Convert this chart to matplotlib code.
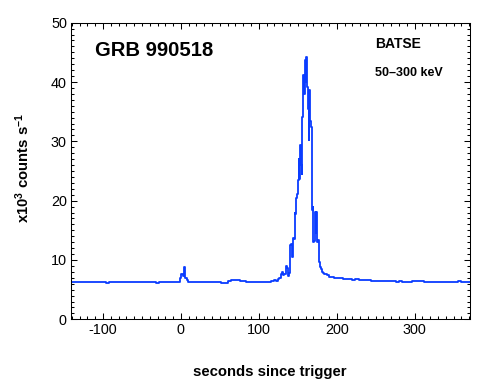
import numpy as np
import matplotlib
matplotlib.use('Agg')
import matplotlib.pyplot as plt
from matplotlib.ticker import MultipleLocator

plt.rcParams['font.family'] = ['Liberation Sans', 'DejaVu Sans']
plt.rcParams['axes.unicode_minus'] = False
plt.rcParams['mathtext.fontset'] = 'custom'
plt.rcParams['mathtext.bf'] = 'Liberation Sans:bold'
plt.rcParams['mathtext.rm'] = 'Liberation Sans:bold'
plt.rcParams['mathtext.default'] = 'bf'

# BATSE 50-300 keV light curve, bin start times (s) and rates (x10^3 counts/s)
t_pre = [-140, -136, -132, -128, -124, -120, -116, -112, -108, -104, -100,
         -96, -92, -88, -84, -80, -76, -72, -68, -64, -60, -56, -52, -48,
         -44, -40, -36, -32, -28, -24, -20, -16, -12, -8, -4]
r_pre = [6.30, 6.28, 6.33, 6.30, 6.26, 6.31, 6.35, 6.30, 6.29, 6.24, 6.32,
         6.15, 6.28, 6.30, 6.34, 6.29, 6.26, 6.31, 6.30, 6.36, 6.30, 6.25,
         6.31, 6.28, 6.34, 6.30, 6.27, 6.18, 6.31, 6.30, 6.26, 6.32, 6.29,
         6.33, 6.30]

t_trig = [-1, 0.4, 2.5, 4.2, 5.5, 7.6, 9.7]
r_trig = [6.9, 7.6, 7.3, 8.8, 7.0, 6.6, 6.25]

t_quiet = [12, 16, 20, 24, 28, 32, 36, 40, 44, 48, 52, 56, 60, 64, 68, 72,
           76, 80, 84, 88, 92, 96, 100, 104, 108, 112, 116]
r_quiet = [6.25, 6.30, 6.28, 6.31, 6.27, 6.30, 6.25, 6.29, 6.32, 6.27, 6.20,
           6.10, 6.45, 6.68, 6.70, 6.62, 6.50, 6.38, 6.30, 6.26, 6.33, 6.28,
           6.24, 6.31, 6.30, 6.35, 6.45]

t_burst = [120, 122, 124, 126, 128, 129, 130, 131, 132, 134, 135, 136, 137,
           138, 139, 140, 141, 142, 143, 144, 145, 146, 147, 148, 149, 150,
           151, 152, 153, 154, 155, 156, 157, 158, 159, 160, 161, 162, 163,
           164, 165, 166, 167, 168, 169, 170, 171, 172, 173, 174, 175, 176,
           177, 178, 179, 180, 181, 182, 184, 186, 188, 190, 192, 196, 200]
r_burst = [6.55, 6.50, 6.80, 6.90, 7.20, 7.60, 8.00, 7.40, 7.70, 7.60, 9.00,
           8.70, 7.70, 7.30, 7.80, 12.5, 12.7, 12.4, 10.5, 13.7, 13.6, 18.0,
           17.8, 20.4, 21.2, 23.5, 27.0, 23.7, 29.4, 26.0, 24.5, 34.1, 41.2,
           38.0, 43.7, 40.0, 44.2, 39.2, 35.5, 30.2, 38.6, 33.5, 32.5, 18.4,
           18.9, 13.0, 13.2, 18.1, 14.5, 18.1, 13.1, 13.3, 9.7, 9.2, 8.9,
           8.5, 8.0, 7.8, 7.7, 7.6, 7.4, 7.2, 7.1, 7.0, 6.95]

t_tail = [204, 208, 212, 216, 220, 224, 228, 232, 236, 240, 244, 248, 252,
          256, 260, 264, 268, 272, 276, 280, 284, 288, 292, 296, 300, 304,
          308, 312, 316, 320, 324, 328, 332, 336, 340, 344, 348, 352, 356,
          360, 364]
r_tail = [6.90, 6.85, 6.80, 6.75, 6.70, 6.72, 6.65, 6.60, 6.62, 6.55, 6.50,
          6.48, 6.50, 6.45, 6.42, 6.40, 6.38, 6.40, 6.35, 6.38, 6.33, 6.35,
          6.30, 6.40, 6.50, 6.45, 6.40, 6.35, 6.30, 6.33, 6.30, 6.28, 6.32,
          6.30, 6.35, 6.30, 6.28, 6.30, 6.42, 6.30, 6.28]
t_end = 371

xticks = [-100, 0, 100, 200, 300]
yticks = [0, 10, 20, 30, 40, 50]

t = t_pre + t_trig + t_quiet + t_burst + t_tail + [t_end]
rate = r_pre + r_trig + r_quiet + r_burst + r_tail
rate = rate + [rate[-1]]

fig = plt.figure(figsize=(4.9, 3.9), dpi=100)
ax = fig.add_axes([71 / 490, 1 - 319.3 / 390, 399 / 490, 296.6 / 390])

ax.step(t, rate, where='post', color='#0a3cff', lw=1.3)

ax.set_xlim(-141, 371)
ax.set_ylim(0, 50)
ax.set_xticks(xticks)
ax.set_yticks(yticks)
ax.xaxis.set_minor_locator(MultipleLocator(10))
ax.yaxis.set_minor_locator(MultipleLocator(1))
ax.tick_params(which='both', direction='in', top=True, right=True,
               width=0.75, labelsize=10.4, pad=3)
ax.tick_params(which='major', length=4.5)
ax.tick_params(which='minor', length=2.2)
for s in ax.spines.values():
    s.set_linewidth(0.75)

fig.text(95 / 490, 1 - 56 / 390, 'GRB 990518', fontsize=14.6,
         fontweight='bold', ha='left', va='baseline')
fig.text(375 / 490, 1 - 48.3 / 390, 'BATSE', fontsize=10, fontweight='bold',
         ha='left', va='baseline')
fig.text(375 / 490, 1 - 76.5 / 390, '50\u2013300 keV', fontsize=9,
         fontweight='bold', ha='left', va='baseline')

fig.text(23 / 490, 1 - 168 / 390, r'x10$^{3}$ counts s$^{-1}$',
         fontsize=10.7, fontweight='bold', rotation=90, ha='center',
         va='center')
fig.text(270 / 490, 1 - 372 / 390, 'seconds since trigger', fontsize=10.7,
         fontweight='bold', ha='center', va='center')

fig.savefig('out.png', dpi=100)
